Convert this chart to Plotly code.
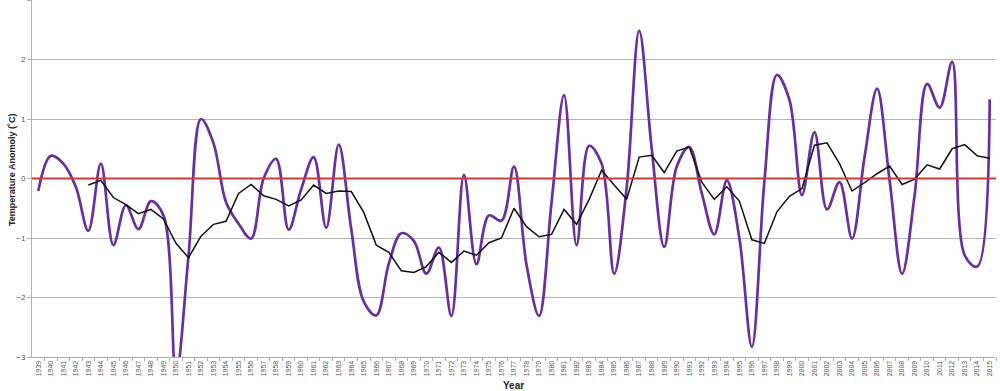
import plotly.graph_objects as go

# ---- data ----
years = list(range(1939, 2016))
year_labels = [str(y) for y in years]

anomaly = [
    -0.21, 0.38, 0.25, -0.14, -0.88, 0.25, -1.12, -0.45, -0.85, -0.38,   # 1939-1948
    -0.62, -3.30, -1.30, 1.00, 0.59, -0.40, -0.76, -1.01, 0.00, 0.33,    # 1949-1958
    -0.86, -0.18, 0.36, -0.83, 0.57, -0.85, -2.07, -2.30, -1.43, -0.92,  # 1959-1968
    -1.05, -1.60, -1.16, -2.31, 0.06, -1.44, -0.62, -0.71, 0.20, -1.45,  # 1969-1978
    -2.31, -0.40, 1.40, -1.12, 0.55, 0.25, -1.60, -0.15, 2.48, 0.50,     # 1979-1988
    -1.15, 0.20, 0.53, -0.25, -0.94, -0.03, -1.00, -2.83, -0.05, 1.74,   # 1989-1998
    1.32, -0.28, 0.78, -0.52, -0.06, -1.01, 0.36, 1.51, -0.03, -1.60,    # 1999-2008
    -0.28, 1.59, 1.19, 1.96, -1.29, -1.48, 1.33,                          # 2009-2015
]

moving_avg = [
    None, None, None, None,                                               # 1939-1942
    -0.11, -0.03, -0.32, -0.44, -0.59, -0.52,                             # 1943-1948
    -0.68, -1.09, -1.33, -0.97, -0.77, -0.72, -0.25, -0.10, -0.29, -0.35, # 1949-1958
    -0.46, -0.36, -0.11, -0.25, -0.21, -0.22, -0.57, -1.12, -1.24, -1.55, # 1959-1968
    -1.58, -1.48, -1.24, -1.41, -1.22, -1.29, -1.08, -1.00, -0.50, -0.81, # 1969-1978
    -0.98, -0.94, -0.52, -0.77, -0.35, 0.14, -0.11, -0.35, 0.36, 0.39,    # 1979-1988
    0.10, 0.46, 0.53, -0.06, -0.35, -0.14, -0.38, -1.03, -1.09, -0.56,    # 1989-1998
    -0.30, -0.17, 0.56, 0.60, 0.25, -0.21, -0.07, 0.08, 0.21, -0.10,      # 1999-2008
    -0.01, 0.23, 0.16, 0.50, 0.57, 0.38, 0.34,                            # 2009-2015
]

BASELINE = 0.0
y_ticks = [-3, -2, -1, 0, 1, 2, 3]

fig = go.Figure()

fig.add_trace(go.Scatter(
    x=years, y=anomaly, mode="lines",
    line=dict(color="#6a2f9e", width=2.7, shape="spline", smoothing=1.0),
    showlegend=False, hoverinfo="x+y",
))

fig.add_trace(go.Scatter(
    x=years, y=moving_avg, mode="lines",
    line=dict(color="#111111", width=1.5),
    showlegend=False, connectgaps=False,
))

fig.add_shape(type="line", xref="paper", x0=0, x1=1, yref="y",
              y0=BASELINE, y1=BASELINE,
              line=dict(color="#cc3b3b", width=2), layer="above")

fig.update_layout(
    width=1000, height=391,
    margin=dict(l=32, r=4, t=0, b=34),
    paper_bgcolor="white", plot_bgcolor="white",
    font=dict(family="Liberation Sans, Arial, sans-serif", color="#444"),
    xaxis=dict(
        range=[years[0] - 0.5, years[-1] + 0.5], automargin=False,
        tickmode="array", tickvals=years, ticktext=year_labels,
        tickangle=-90, tickfont=dict(size=7, color="#555"),
        ticks="", ticklen=0, showgrid=False, zeroline=False,
        showline=True, linecolor="#b0b0b0", linewidth=1,
        minor=dict(tickmode="array", tickvals=[y + 0.5 for y in years],
                   ticks="outside", ticklen=3, tickcolor="#b0b0b0", showgrid=False),
    ),
    yaxis=dict(
        range=[-3, 3], automargin=False, tickmode="array", tickvals=y_ticks,
        tickfont=dict(size=8, color="#555"),
        ticks="outside", ticklen=4, tickcolor="#b0b0b0",
        showgrid=True, gridcolor="#b5b5b5", gridwidth=1,
        zeroline=False, showline=True, linecolor="#b0b0b0", linewidth=1,
    ),
    annotations=[
        dict(text="<b>Year</b>", xref="paper", yref="paper",
             x=(513 - 32) / 964, y=-28 / 357, xanchor="center", yanchor="middle",
             showarrow=False, font=dict(size=10, color="#222")),
        dict(text="<b>Temperature Anomoly (˚C)</b>", xref="paper", yref="paper",
             x=-20 / 964, y=(357 - 170) / 357, xanchor="center", yanchor="middle",
             textangle=-90, showarrow=False, font=dict(size=9, color="#222")),
    ],
)

fig.write_html(
    "out.html",
    config={"displayModeBar": False},
    post_script="document.body.style.margin='0';document.body.style.padding='0';",
)
